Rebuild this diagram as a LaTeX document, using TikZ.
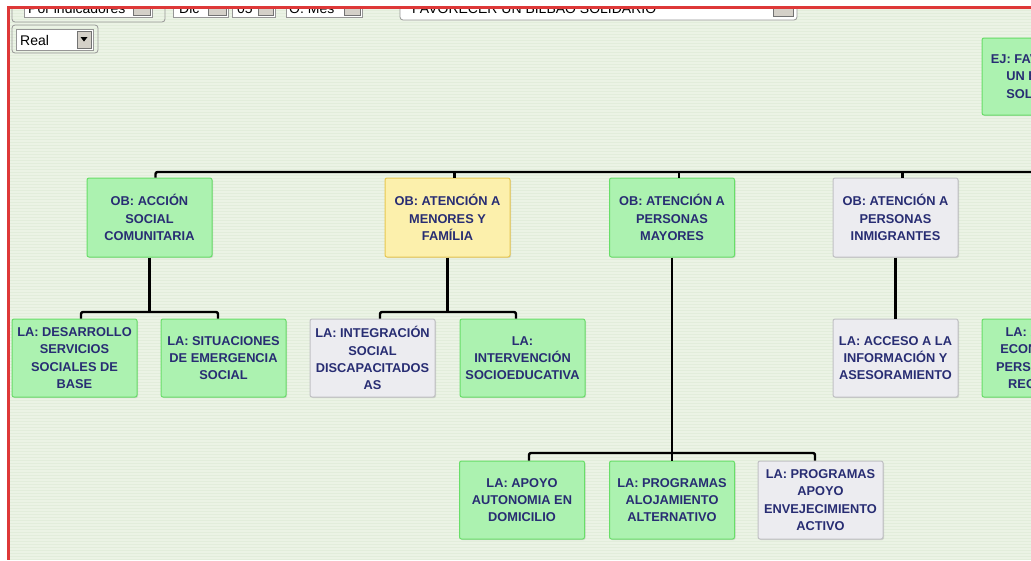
\documentclass[tikz,border=0pt]{standalone}
\usepackage{fontspec}
\setmainfont{Liberation Sans}
\usetikzlibrary{shadows}
\definecolor{bgc}{RGB}{235,243,229}
\definecolor{bgs}{RGB}{226,237,219}
\definecolor{redb}{RGB}{222,56,56}
\definecolor{gfill}{RGB}{172,242,176}
\definecolor{gdraw}{RGB}{104,222,104}
\definecolor{yfill}{RGB}{252,240,172}
\definecolor{ydraw}{RGB}{232,200,80}
\definecolor{wfill}{RGB}{236,236,240}
\definecolor{wdraw}{RGB}{192,192,196}
\definecolor{txt}{RGB}{40,45,115}
\definecolor{btn}{RGB}{212,208,200}
\definecolor{frm}{RGB}{150,150,150}
\begin{document}
\begin{tikzpicture}[x=1pt,y=-1pt,
 boxbase/.style={rectangle, rounded corners=2pt, line width=1pt, minimum width=125pt, minimum height=78pt, inner sep=1pt, align=center, text=txt, font=\fontsize{12.8}{17.2}\selectfont\bfseries, drop shadow={shadow xshift=1pt,shadow yshift=-1pt,opacity=0.25,fill=black!50}},
 gbox/.style={boxbase, fill=gfill, draw=gdraw},
 ybox/.style={boxbase, fill=yfill, draw=ydraw},
 wbox/.style={boxbase, fill=wfill, draw=wdraw},
 link/.style={line width=2.4pt, line join=round, rounded corners=2pt, draw=black},
 selbox/.style={fill=white, draw=frm, line width=0.8pt},
 btnbox/.style={fill=btn, draw=black!55, line width=0.6pt},
 frame/.style={draw=frm, line width=0.8pt, rounded corners=3pt},
 uitext/.style={font=\fontsize{14}{16}\selectfont, anchor=base west, inner sep=0pt, text=black},
]
\useasboundingbox (0,0) rectangle (1031,560);
\clip (0,0) rectangle (1031,560);
\fill[white] (0,0) rectangle (1031,560);
\fill[bgc] (8,7) rectangle (1031,560);
\foreach \yy in {10,13,...,560} \draw[bgs, line width=1pt] (10,\yy) -- (1031,\yy);

% top widgets (cut by the top edge)
\begin{scope}
\clip (10,8.5) rectangle (1031,560);
\draw[frame] (12,-10) rectangle (165,22);
\draw[selbox] (24,-10) rectangle (152,17);
\draw[btnbox] (133,-10) rectangle (150,15);
\node[uitext] (t1) at (28,13) {Por indicadores};
\draw[selbox] (173,-10) rectangle (228,17);
\draw[btnbox] (208,-10) rectangle (226,15);
\node[uitext] (t2) at (179,13) {Dic};
\draw[selbox] (232,-10) rectangle (275,17);
\draw[btnbox] (258,-10) rectangle (273,15);
\node[uitext] (t3) at (237,13) {05};
\draw[selbox] (286,-10) rectangle (362,17);
\draw[btnbox] (344,-10) rectangle (360,15);
\node[uitext] (t4) at (289,13) {O. Mes};
\draw[frame, fill=white] (400,-10) rectangle (797,20);
\draw[btnbox] (773,-10) rectangle (793,16);
\node[uitext] (t5) at (412,13) {FAVORECER UN BILBAO SOLIDARIO};
\end{scope}
\draw[frame] (12,25) rectangle (98,53);
\draw[selbox] (16,29) rectangle (93,50);
\draw[btnbox] (77,31) rectangle (91,48);
\fill (80.5,37) -- (87.5,37) -- (84,41.5) -- cycle;
\node[uitext] (t6) at (20,45.5) {Real};

% red frame
\fill[redb] (7,6) rectangle (1031,8.5);
\fill[redb] (7,6) rectangle (10,560);

% nodes
\node[gbox, minimum width=120pt, minimum height=77pt] (EJ) at (1042,76.5) {EJ: FAVORECER\\UN BILBAO\\SOLIDARIO};
\node[gbox, minimum height=79pt] (OB1) at (149.5,217.5) {OB: ACCIÓN\\SOCIAL\\COMUNITARIA};
\node[ybox, minimum height=79pt] (OB2) at (447.5,217.5) {OB: ATENCIÓN A\\MENORES Y\\FAMÍLIA};
\node[gbox, minimum height=79pt] (OB3) at (672,217.5) {OB: ATENCIÓN A\\PERSONAS\\MAYORES};
\node[wbox, minimum height=79pt] (OB4) at (895.5,217.5) {OB: ATENCIÓN A\\PERSONAS\\INMIGRANTES};
\node[gbox] (LA1) at (74.5,358) {LA: DESARROLLO\\SERVICIOS\\SOCIALES DE\\BASE};
\node[gbox] (LA2) at (223.5,358) {LA: SITUACIONES\\DE EMERGENCIA\\SOCIAL};
\node[wbox] (LA3) at (372.5,358) {LA: INTEGRACIÓN\\SOCIAL\\DISCAPACITADOS\\AS};
\node[gbox] (LA4) at (522.5,358) {LA:\\INTERVENCIÓN\\SOCIOEDUCATIVA};
\node[wbox] (LA5) at (895.5,358) {LA: ACCESO A LA\\INFORMACIÓN Y\\ASESORAMIENTO};
\node[gbox] (LA6) at (1044.5,358) {LA: AYUDAS\\ECONÓMICAS\\PERSONAS SIN\\RECURSOS};
\node[gbox] (LA7) at (522,500) {LA: APOYO\\AUTONOMIA EN\\DOMICILIO};
\node[gbox] (LA8) at (672,500) {LA: PROGRAMAS\\ALOJAMIENTO\\ALTERNATIVO};
\node[wbox] (LA9) at (820.5,500) {LA: PROGRAMAS\\APOYO\\ENVEJECIMIENTO\\ACTIVO};

% connectors
\coordinate (busR) at (1045,172);
\draw[link] ([xshift=6pt]OB1.north) |- (busR);
\foreach \n in {OB2,OB3,OB4}
  \draw[link] ([xshift=7pt]\n.north) -- ([xshift=7pt]\n.north |- busR);
\coordinate (j1) at (149.5,312);
\coordinate (j2) at (447.5,312);
\coordinate (j3) at (672,453);
\draw[link] (OB1.south) -- (j1);
\draw[link] ([xshift=6.5pt]LA1.north) |- (j1) -| ([xshift=-5.5pt]LA2.north);
\draw[link] (OB2.south) -- (j2);
\draw[link] ([xshift=7.5pt]LA3.north) |- (j2) -| ([xshift=-6.5pt]LA4.north);
\draw[link] (OB4.south) -- (LA5.north);
\draw[link] (OB3.south) -- (LA8.north);
\draw[link] ([xshift=7pt]LA7.north) |- (j3) -| ([xshift=-5.5pt]LA9.north);
\end{tikzpicture}
\end{document}
